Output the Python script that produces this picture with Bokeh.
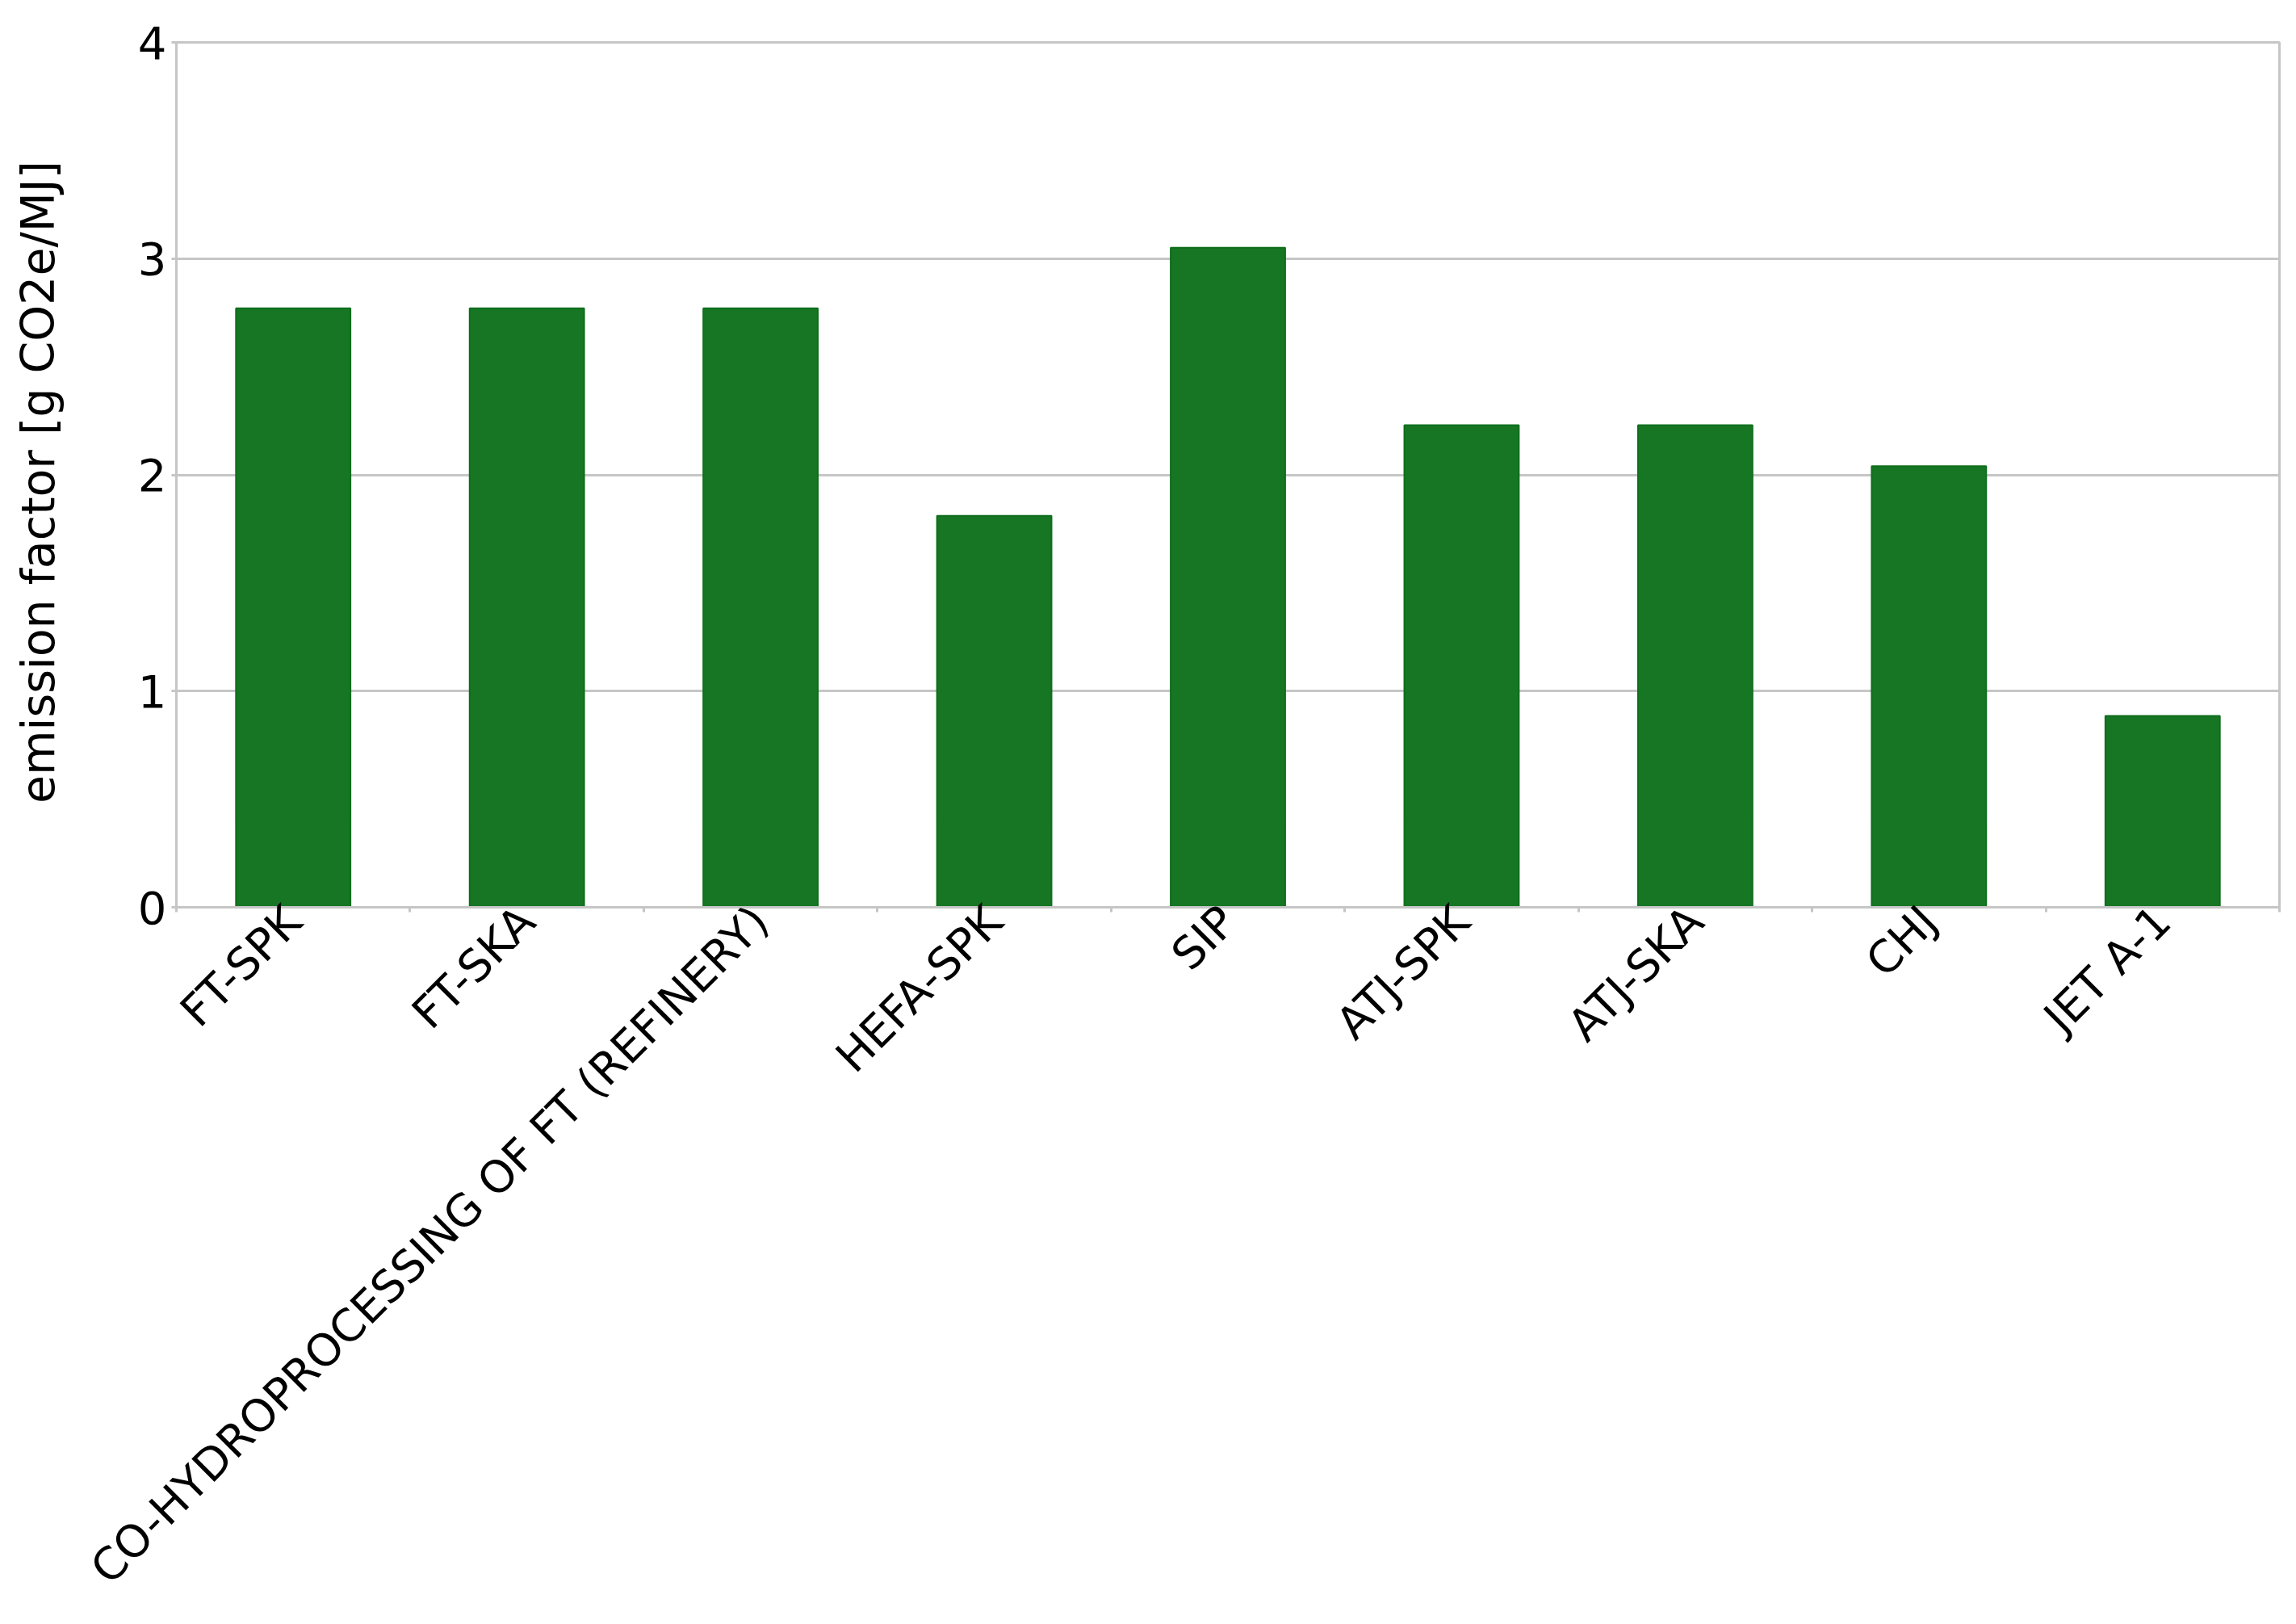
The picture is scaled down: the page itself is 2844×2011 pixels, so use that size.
import math
from bokeh.plotting import figure
from bokeh.models import FixedTicker, Range1d
from bokeh.embed import file_html
from bokeh.resources import INLINE

categories = ["FT-SPK", "FT-SKA", "CO-HYDROPROCESSING OF FT (REFINERY)", "HEFA-SPK",
              "SIP", "ATJ-SPK", "ATJ-SKA", "CHJ", "JET A-1"]
values = [2.77, 2.77, 2.77, 1.81, 3.05, 2.23, 2.23, 2.04, 0.885]
y_ticks = [0, 1, 2, 3, 4]
y_label = "emission factor [g  CO2e/MJ]"

n = len(categories)
centers = [i + 0.5 for i in range(n)]
boundaries = list(range(n + 1))

GREY = "#c6c6c6"
FONT = "DejaVu Sans"

p = figure(width=2836, height=2008, output_backend="svg", toolbar_location=None,
           x_range=Range1d(0, n), y_range=Range1d(0, 4),
           min_border_left=218, min_border_right=13, min_border_top=52, min_border_bottom=885)

p.vbar(x=centers, top=values, width=0.49, fill_color="#167624", line_color="#0f6e1c", line_width=2)

p.background_fill_color = "white"
p.border_fill_color = "white"
p.outline_line_color = GREY
p.outline_line_width = 3

p.xgrid.visible = False
p.ygrid.grid_line_color = GREY
p.ygrid.grid_line_width = 3

p.yaxis.ticker = FixedTicker(ticks=y_ticks)
p.yaxis.axis_line_color = GREY
p.yaxis.axis_line_width = 3
p.yaxis.major_tick_line_color = GREY
p.yaxis.major_tick_line_width = 3
p.yaxis.major_tick_out = 6
p.yaxis.major_tick_in = 0
p.yaxis.minor_tick_line_color = None
p.yaxis.major_label_text_font = FONT
p.yaxis.major_label_text_font_size = "56px"
p.yaxis.major_label_text_color = "black"
p.yaxis.major_label_standoff = 6
p.yaxis.axis_label = y_label
p.yaxis.axis_label_text_font = FONT
p.yaxis.axis_label_text_font_size = "57px"
p.yaxis.axis_label_text_font_style = "normal"
p.yaxis.axis_label_text_color = "black"
p.yaxis.axis_label_standoff = 88

p.xaxis.ticker = FixedTicker(ticks=centers, minor_ticks=boundaries)
p.xaxis.major_label_overrides = {c: lab for c, lab in zip(centers, categories)}
p.xaxis.major_label_orientation = math.pi / 4
p.xaxis.major_label_text_font = FONT
p.xaxis.major_label_text_font_size = "55px"
p.xaxis.major_label_text_color = "black"
p.xaxis.major_label_standoff = 2
p.xaxis.axis_line_color = GREY
p.xaxis.axis_line_width = 3
p.xaxis.major_tick_line_color = None
p.xaxis.minor_tick_line_color = GREY
p.xaxis.minor_tick_line_width = 3
p.xaxis.minor_tick_out = 6
p.xaxis.minor_tick_in = 0

open("out.html", "w").write(file_html(p, INLINE))
